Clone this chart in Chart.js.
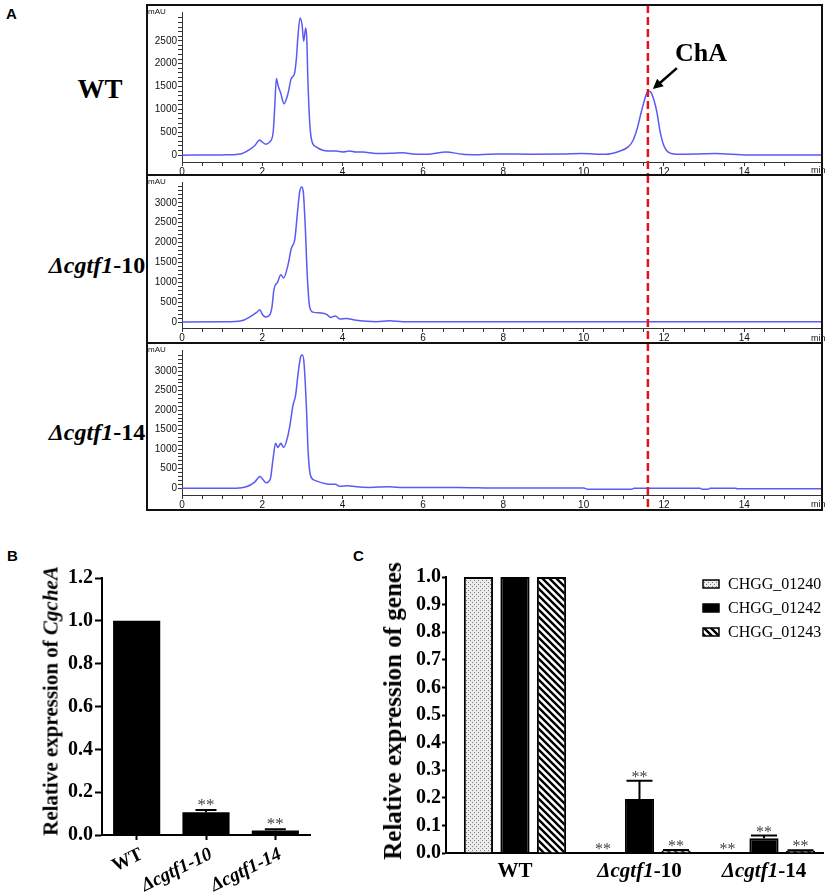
<!DOCTYPE html>
<html>
<head>
<meta charset="utf-8">
<title>ChA chromatograms and gene expression</title>
<script src="https://cdn.jsdelivr.net/npm/chart.js@4.4.1/dist/chart.umd.min.js"></script>
<style>
  body { margin: 0; background: #fff; }
  #page { position: relative; width: 829px; height: 896px; overflow: hidden; }
  #page canvas, #page div { position: absolute; }
  .letter { font: bold 15px "Liberation Sans", Arial, sans-serif; color: #000; }
  .small { font: 8px "Liberation Sans", Arial, sans-serif; color: #111; }
  .serif { font-family: "Liberation Serif", "Times New Roman", serif; font-weight: bold; color: #000; white-space: nowrap; }
  .row { transform: translate(-50%, -50%); }
  .vt { transform: translate(-50%, -50%) rotate(-90deg); }
</style>
</head>
<body>
<div id="page">
  <div class="letter" style="left:6px;top:5px">A</div>
  <canvas id="wt" width="677" height="170" style="left:146px;top:5px"></canvas>
  <canvas id="d10" width="677" height="168" style="left:146px;top:175px"></canvas>
  <canvas id="d14" width="677" height="167" style="left:146px;top:343px"></canvas>
  <div style="left:146px;top:4px;width:677px;height:507px;border:2px solid #111;box-sizing:border-box"></div>
  <div style="left:146px;top:174px;width:677px;height:2px;background:#111"></div>
  <div style="left:146px;top:342px;width:677px;height:2px;background:#111"></div>
  <div class="small" style="left:148px;top:7px">mAU</div>
  <div class="small" style="left:148px;top:177px">mAU</div>
  <div class="small" style="left:148px;top:345px">mAU</div>
  <div class="small" style="left:811px;top:165px;font-size:9px">min</div>
  <div class="small" style="left:811px;top:333px;font-size:9px">min</div>
  <div class="small" style="left:811px;top:499px;font-size:9px">min</div>
  <div class="serif row" style="left:100px;top:89px;font-size:27px">WT</div>
  <div class="serif row" style="left:97px;top:265px;font-size:24px"><i>Δcgtf1</i>-10</div>
  <div class="serif row" style="left:97px;top:432px;font-size:24px"><i>Δcgtf1</i>-14</div>

  <div class="letter" style="left:7px;top:547px">B</div>
  <canvas id="barB" width="320" height="366" style="left:0px;top:530px"></canvas>
  <div class="serif vt" style="left:51px;top:701px;font-size:21px">Relative expression of <i>CgcheA</i></div>

  <div class="letter" style="left:353px;top:547px">C</div>
  <canvas id="barC" width="489" height="366" style="left:340px;top:530px"></canvas>
  <div class="serif vt" style="left:393px;top:711px;font-size:25px">Relative expression of genes</div>
</div>
<script>
// ---- panel A: HPLC traces (min, mAU) ----
const runEnd = 15.96;
const chaTime = 11.6;
const chaPeak = 1400;

const wtTime = [0, 1.0, 1.35, 1.5, 1.7, 1.82, 1.93, 1.98, 2.08, 2.18, 2.27, 2.31, 2.35, 2.39, 2.46, 2.54,
  2.64, 2.72, 2.8, 2.85, 2.89, 2.94, 2.99, 3.03, 3.08, 3.11, 3.13, 3.18, 3.23, 3.34, 3.51, 3.65, 3.84,
  4.0, 4.17, 4.33, 4.5, 4.83, 5.2, 5.49, 5.82, 6.15, 6.57, 6.98, 7.39, 7.89, 8.71, 9.5, 9.95, 10.54,
  10.91, 11.11, 11.23, 11.33, 11.44, 11.57, 11.62, 11.69, 11.82, 11.9, 11.98, 12.1, 12.31, 12.8, 13.27,
  14.1, 15.96];
const wtMau = [0, 5, 15, 35, 130, 215, 330, 300, 240, 285, 500, 1070, 1675, 1530, 1350, 1125,
  1350, 1675, 1780, 2135, 2635, 3000, 2850, 2490, 2780, 2490, 1780, 710, 320, 180, 105, 92, 90,
  70, 92, 70, 70, 35, 40, 55, 20, 20, 70, 20, 10, 25, 20, 25, 35, 20,
  92, 180, 320, 570, 960, 1350, 1400, 1350, 960, 535, 250, 70, 20, 25, 35,
  5, 5];

const d10Time = [0, 1.06, 1.48, 1.69, 1.85, 1.94, 1.99, 2.08, 2.18, 2.24, 2.29, 2.38, 2.46, 2.53, 2.64,
  2.72, 2.81, 2.87, 2.93, 2.98, 3.02, 3.07, 3.12, 3.18, 3.26, 3.47, 3.6, 3.7, 3.82, 3.93, 4.09, 4.3,
  4.6, 4.84, 5.17, 5.5, 7.9, 10.0, 12.0, 14.0, 15.96];
const d10Mau = [0, 5, 30, 130, 235, 310, 210, 130, 170, 375, 825, 1005, 1190, 1110, 1440,
  1845, 2090, 2705, 3275, 3400, 3275, 2380, 1150, 375, 250, 230, 195, 115, 155, 75, 90, 50,
  20, 10, 30, 10, 10, 10, 10, 5, 5];

const d14Time = [0, 1.35, 1.6, 1.81, 1.94, 2.02, 2.1, 2.2, 2.27, 2.33, 2.39, 2.46, 2.53, 2.62, 2.68,
  2.76, 2.83, 2.89, 2.96, 3.0, 3.04, 3.1, 3.14, 3.2, 3.31, 3.51, 3.68, 3.82, 3.93, 4.13, 4.34, 4.67,
  5.17, 5.5, 6.83, 7.9, 10.0, 10.1, 11.2, 11.25, 12.9, 12.95, 13.1, 13.15, 13.78, 13.83, 15.96];
const d14Mau = [0, 0, 35, 155, 300, 215, 140, 240, 780, 1150, 1045, 1150, 1045, 1275, 1565,
  2105, 2395, 2935, 3390, 3415, 3185, 2020, 945, 325, 200, 130, 100, 100, 50, 60, 35, 20,
  35, 15, 20, 5, 5, -30, -30, 0, 0, -30, -30, 0, 0, -15, -15];

// ---- panel B / C: qRT-PCR ----
const strains = ['WT', 'Δcgtf1-10', 'Δcgtf1-14'];
const cgcheA = [1.0, 0.106, 0.021];
const cgcheAErr = [0, 0.011, 0.006];
const cgcheASig = ['', '**', '**'];

const genes = ['CHGG_01240', 'CHGG_01242', 'CHGG_01243'];
const chgg01240 = [1.0, 0.001, 0.001];
const chgg01242 = [1.0, 0.196, 0.053];
const chgg01243 = [1.0, 0.009, 0.008];
const chgg01240Err = [0, 0, 0];
const chgg01242Err = [0, 0.066, 0.010];
const chgg01243Err = [0, 0.002, 0.002];
const geneSig = ['', '**', '**'];

const sans = '"Liberation Sans", Arial, sans-serif';
const serif = '"Liberation Serif", "Times New Roman", serif';
const traceBlue = '#5a5af5';

// red dashed marker at the ChA retention time
const chaMarker = {
  id: 'chaMarker',
  afterDatasetsDraw(chart) {
    const { ctx, scales: { x } } = chart;
    const px = x.getPixelForValue(chaTime);
    ctx.save();
    ctx.strokeStyle = '#e3121b';
    ctx.lineWidth = 2.5;
    ctx.setLineDash([8, 4]);
    ctx.beginPath();
    ctx.moveTo(px, 0);
    ctx.lineTo(px, chart.height);
    ctx.stroke();
    ctx.restore();
  }
};

// "ChA" arrow pointing at the peak
const chaArrow = {
  id: 'chaArrow',
  afterDraw(chart) {
    const { ctx, scales: { x, y } } = chart;
    const tipX = x.getPixelForValue(chaTime) + 5;
    const tipY = y.getPixelForValue(chaPeak) - 2;
    const tailX = tipX + 24, tailY = tipY - 21;
    const a = Math.atan2(tipY - tailY, tipX - tailX);
    ctx.save();
    ctx.strokeStyle = '#000';
    ctx.fillStyle = '#000';
    ctx.lineWidth = 2.5;
    ctx.beginPath();
    ctx.moveTo(tailX, tailY);
    ctx.lineTo(tipX - 7 * Math.cos(a), tipY - 7 * Math.sin(a));
    ctx.stroke();
    ctx.beginPath();
    ctx.moveTo(tipX, tipY);
    ctx.lineTo(tipX - 10 * Math.cos(a) + 5 * Math.sin(a), tipY - 10 * Math.sin(a) - 5 * Math.cos(a));
    ctx.lineTo(tipX - 10 * Math.cos(a) - 5 * Math.sin(a), tipY - 10 * Math.sin(a) + 5 * Math.cos(a));
    ctx.closePath();
    ctx.fill();
    ctx.font = 'bold 26px ' + serif;
    ctx.textBaseline = 'middle';
    ctx.textAlign = 'left';
    ctx.fillText('ChA', tailX - 2, tailY - 14);
    ctx.restore();
  }
};

function chromatogram(id, times, mau, yMin, yMax, labelTop, xAxisHeight, extra) {
  return new Chart(document.getElementById(id), {
    type: 'line',
    data: {
      datasets: [{
        data: times.map((t, i) => ({ x: t, y: mau[i] })),
        borderColor: traceBlue,
        borderWidth: 1.5,
        pointRadius: 0,
        cubicInterpolationMode: 'monotone',
        fill: false
      }]
    },
    options: {
      responsive: false,
      animation: false,
      events: [],
      layout: { padding: { top: 3, right: 0, left: 0, bottom: 0 } },
      plugins: { legend: { display: false }, tooltip: { enabled: false } },
      scales: {
        x: {
          type: 'linear', min: 0, max: runEnd,
          afterBuildTicks: s => { s.ticks = s.ticks.filter(t => Math.abs(t.value * 2 - Math.round(t.value * 2)) < 1e-6); },
          afterFit: s => { s.height = xAxisHeight; },
          ticks: {
            stepSize: 0.5, autoSkip: false, maxRotation: 0, padding: 0,
            color: '#111', font: { family: sans, size: 10 },
            callback: v => (v % 2 === 0 ? v : '')
          },
          grid: { drawOnChartArea: false, tickLength: 4, tickColor: '#333' },
          border: { color: '#333' }
        },
        y: {
          min: yMin, max: yMax,
          afterBuildTicks: s => { s.ticks = s.ticks.filter(t => t.value >= 0 && t.value % 100 === 0); },
          afterFit: s => { s.width = 36; },
          ticks: {
            stepSize: 100, autoSkip: false, padding: 1,
            color: '#111', font: { family: sans, size: 10 },
            callback: v => (v % 500 === 0 && v <= labelTop ? v : '')
          },
          grid: { drawOnChartArea: false, tickLength: 4, tickColor: '#333' },
          border: { color: '#333' }
        }
      }
    },
    plugins: [chaMarker].concat(extra || [])
  });
}

chromatogram('wt', wtTime, wtMau, -150, 3130, 2500, 13, [chaArrow]);
chromatogram('d10', d10Time, d10Mau, -150, 3525, 3000, 15);
chromatogram('d14', d14Time, d14Mau, -175, 3545, 3000, 15);

// ---- shared helpers for the bar panels ----
function strainParts(name, italicRest) {
  if (name.indexOf('Δcgtf1') === 0) {
    return [{ t: 'Δcgtf1', it: true }, { t: name.slice(6), it: italicRest }];
  }
  return [{ t: name, it: false }];
}

function drawParts(ctx, parts, x, y, size, align) {
  const fontFor = p => (p.it ? 'italic ' : '') + 'bold ' + size + 'px ' + serif;
  let w = 0;
  parts.forEach(p => { ctx.font = fontFor(p); p.w = ctx.measureText(p.t).width; w += p.w; });
  let cx = align === 'right' ? x - w : x - w / 2;
  ctx.textAlign = 'left';
  parts.forEach(p => { ctx.font = fontFor(p); ctx.fillText(p.t, cx, y); cx += p.w; });
}

const strainLabels = {
  id: 'strainLabels',
  afterDraw(chart, args, o) {
    const { ctx, chartArea, scales: { x } } = chart;
    strains.forEach((name, i) => {
      const px = x.getPixelForValue(i);
      ctx.save();
      ctx.fillStyle = '#000';
      ctx.textBaseline = o.baseline;
      ctx.translate(px + o.dx, chartArea.bottom + o.dy);
      ctx.rotate(-o.rotate * Math.PI / 180);
      drawParts(ctx, strainParts(name, o.italicRest), 0, 0, o.size, o.rotate ? 'right' : 'center');
      ctx.restore();
    });
  }
};

const errorBars = {
  id: 'errorBars',
  afterDatasetsDraw(chart, args, o) {
    const { ctx, scales: { y } } = chart;
    chart.data.datasets.forEach((ds, di) => {
      const meta = chart.getDatasetMeta(di);
      meta.data.forEach((bar, i) => {
        const d = ds.data[i];
        const v = typeof d === 'object' ? d.y : d;
        const e = ds.errUp ? ds.errUp[i] : 0;
        const top = y.getPixelForValue(v + e);
        ctx.save();
        if (e > 0) {
          ctx.strokeStyle = '#000';
          ctx.lineWidth = 2;
          ctx.beginPath();
          ctx.moveTo(bar.x, bar.y);
          ctx.lineTo(bar.x, top);
          ctx.moveTo(bar.x - o.cap / 2, top);
          ctx.lineTo(bar.x + o.cap / 2, top);
          ctx.stroke();
        }
        if (ds.stars && ds.stars[i]) {
          ctx.fillStyle = '#444';
          ctx.font = o.starSize + 'px ' + serif;
          ctx.textAlign = 'center';
          ctx.textBaseline = 'alphabetic';
          ctx.fillText(ds.stars[i], bar.x, top + o.starLift);
        }
        ctx.restore();
      });
    });
  }
};

const tickFont = { family: serif, weight: 'bold', size: 20 };

// ---- panel B ----
new Chart(document.getElementById('barB'), {
  type: 'bar',
  data: {
    labels: strains,
    datasets: [{
      data: cgcheA, errUp: cgcheAErr, stars: cgcheASig,
      backgroundColor: '#000', borderWidth: 0,
      barPercentage: 0.68, categoryPercentage: 1
    }]
  },
  options: {
    responsive: false,
    animation: false,
    events: [],
    layout: { padding: { top: 48, right: 10, left: 0, bottom: 0 } },
    plugins: {
      legend: { display: false }, tooltip: { enabled: false },
      errorBars: { cap: 21, starSize: 17, starLift: 0 },
      strainLabels: { rotate: 26, dx: 1, dy: 10, size: 19, italicRest: true, baseline: 'top' }
    },
    scales: {
      x: {
        afterFit: s => { s.height = 61; },
        ticks: { display: false },
        grid: { offset: false, drawOnChartArea: false, tickLength: 5, tickWidth: 2, tickColor: '#000' },
        border: { color: '#000', width: 2 }
      },
      y: {
        min: 0, max: 1.2,
        afterFit: s => { s.width = 102; },
        ticks: { stepSize: 0.2, padding: 2, color: '#000', font: tickFont, callback: v => v.toFixed(1) },
        grid: { drawOnChartArea: false, tickLength: 7, tickWidth: 2, tickColor: '#000' },
        border: { color: '#000', width: 2 }
      }
    }
  },
  plugins: [errorBars, strainLabels]
});

// ---- panel C ----
function dotPattern() {
  const c = document.createElement('canvas');
  c.width = 4; c.height = 4;
  const g = c.getContext('2d');
  g.fillStyle = '#ececec'; g.fillRect(0, 0, 4, 4);
  g.fillStyle = '#7a7a7a'; g.fillRect(0, 0, 1, 1); g.fillRect(2, 2, 1, 1);
  return g.createPattern(c, 'repeat');
}

function stripePattern() {
  const s = 7;
  const c = document.createElement('canvas');
  c.width = s; c.height = s;
  const g = c.getContext('2d');
  g.fillStyle = '#fff'; g.fillRect(0, 0, s, s);
  g.strokeStyle = '#000'; g.lineWidth = 2.4;
  g.beginPath();
  [-s, 0, s].forEach(k => { g.moveTo(-1, -1 + k); g.lineTo(s + 1, s + 1 + k); });
  g.stroke();
  return g.createPattern(c, 'repeat');
}

const geneFills = [dotPattern(), '#000', stripePattern()];
const geneVals = [chgg01240, chgg01242, chgg01243];
const geneErrs = [chgg01240Err, chgg01242Err, chgg01243Err];

const geneLegend = {
  id: 'geneLegend',
  afterDraw(chart, args, o) {
    const { ctx, chartArea } = chart;
    chart.data.datasets.forEach((ds, i) => {
      const bx = chartArea.right - o.fromRight;
      const by = chartArea.top + o.top + i * o.rowGap;
      ctx.save();
      ctx.fillStyle = ds.backgroundColor;
      ctx.fillRect(bx, by - 4, 16, 8);
      ctx.strokeStyle = '#000';
      ctx.lineWidth = 1.5;
      ctx.strokeRect(bx, by - 4, 16, 8);
      ctx.fillStyle = '#000';
      ctx.font = '16px ' + serif;
      ctx.textAlign = 'left';
      ctx.textBaseline = 'middle';
      ctx.fillText(ds.label, bx + 25, by + 1);
      ctx.restore();
    });
  }
};

new Chart(document.getElementById('barC'), {
  type: 'bar',
  data: {
    datasets: genes.map((name, k) => ({
      label: name,
      data: strains.map((s, i) => ({ x: i, y: geneVals[k][i] })),
      errUp: geneErrs[k],
      stars: geneSig,
      backgroundColor: geneFills[k],
      borderColor: '#000',
      borderWidth: 2,
      barPercentage: 0.8,
      categoryPercentage: 0.88
    }))
  },
  options: {
    responsive: false,
    animation: false,
    events: [],
    layout: { padding: { top: 47, right: 6, left: 0, bottom: 0 } },
    plugins: {
      legend: { display: false }, tooltip: { enabled: false },
      errorBars: { cap: 26, starSize: 16, starLift: 1 },
      strainLabels: { rotate: 0, dx: 0, dy: 19, size: 21, italicRest: false, baseline: 'middle' },
      geneLegend: { fromRight: 120, top: 7, rowGap: 24 }
    },
    scales: {
      x: {
        type: 'linear', min: -0.554, max: 2.474, offset: false,
        afterBuildTicks: s => { s.ticks = s.ticks.filter(t => Number.isInteger(t.value)); },
        afterFit: s => { s.height = 43; },
        ticks: { display: false, stepSize: 1 },
        grid: { offset: false, drawOnChartArea: false, drawTicks: false },
        border: { color: '#000', width: 2 }
      },
      y: {
        min: 0, max: 1.0,
        afterFit: s => { s.width = 106; },
        ticks: { stepSize: 0.1, padding: 1, color: '#000', font: tickFont, callback: v => v.toFixed(1) },
        grid: { drawOnChartArea: false, tickLength: 4, tickWidth: 2, tickColor: '#000' },
        border: { color: '#000', width: 2 }
      }
    }
  },
  plugins: [errorBars, strainLabels, geneLegend]
});
</script>
</body>
</html>
